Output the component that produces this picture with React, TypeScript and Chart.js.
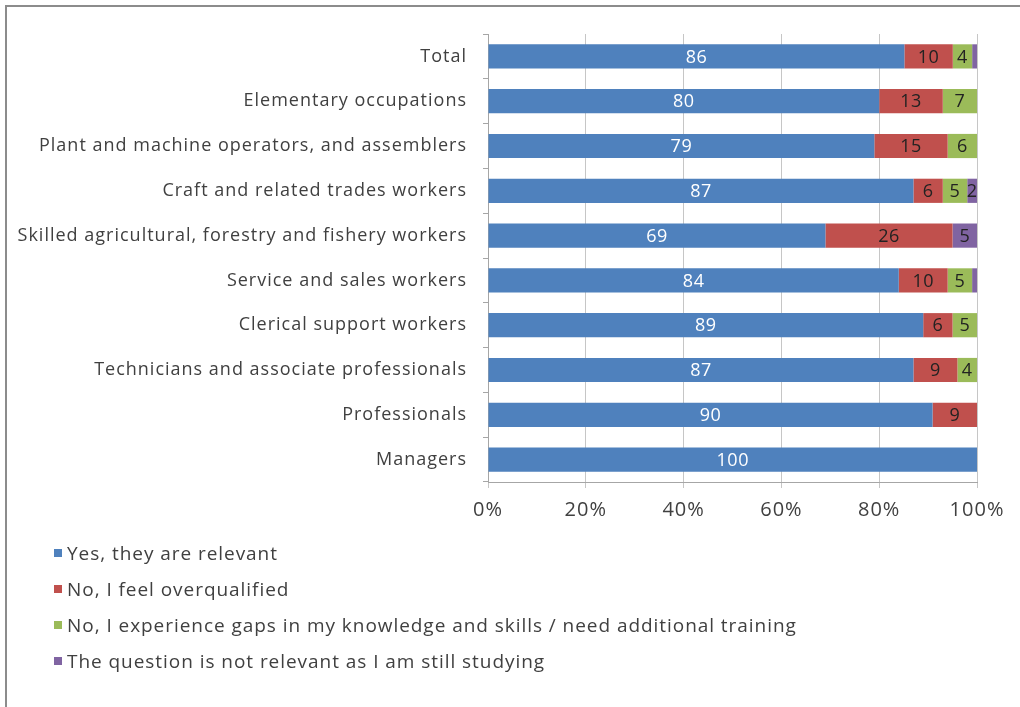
import React, { useEffect, useRef } from 'react';
import Chart from 'chart.js/auto';

const categories = [
  'Total',
  'Elementary occupations',
  'Plant and machine operators, and assemblers',
  'Craft and related trades workers',
  'Skilled agricultural, forestry and fishery workers',
  'Service and sales workers',
  'Clerical support workers',
  'Technicians and associate professionals',
  'Professionals',
  'Managers',
];
const yesRelevant = [86, 80, 79, 87, 69, 84, 89, 87, 90, 100];
const overqualified = [10, 13, 15, 6, 26, 10, 6, 9, 9, 0];
const skillGaps = [4, 7, 6, 5, 0, 5, 5, 4, 0, 0];
const stillStudying = [1, 0, 0, 2, 5, 1, 0, 0, 0, 0];
const seriesNames = [
  'Yes, they are relevant',
  'No, I feel overqualified',
  'No, I experience gaps in my knowledge and skills / need additional training',
  'The question is not relevant as I am still studying',
];
const seriesColors = ['#4F81BD', '#C0504D', '#9BBB59', '#8064A2'];
const xTicks = [0, 20, 40, 60, 80, 100];

const FONT = '"Open Sans"';
const TEXT = '#404040';

const series = [yesRelevant, overqualified, skillGaps, stillStudying];
const rowTotals = categories.map((_, i) => series.reduce((s, arr) => s + arr[i], 0));

const spacing = {
  id: 'spacing',
  beforeDraw(chart: any) {
    chart.ctx.letterSpacing = '1px';
  },
};

const barLabels = {
  id: 'barLabels',
  afterDatasetsDraw(chart: any) {
    const ctx = chart.ctx;
    ctx.save();
    ctx.letterSpacing = '0.5px';
    ctx.font = `18px ${FONT}`;
    ctx.textAlign = 'center';
    ctx.textBaseline = 'middle';
    chart.data.datasets.forEach((ds: any, di: number) => {
      const meta = chart.getDatasetMeta(di);
      meta.data.forEach((bar: any, i: number) => {
        const raw = ds.rawValues[i];
        if (raw < 2) return;
        const p = bar.getProps(['x', 'y', 'base'], true);
        ctx.fillStyle = di === 0 ? '#ffffff' : '#222222';
        ctx.fillText(String(raw), (p.x + p.base) / 2, p.y + 1);
      });
    });
    ctx.restore();
  },
};

export default function App() {
  const ref = useRef<HTMLCanvasElement>(null);
  useEffect(() => {
    if (!ref.current) return;
    const chart = new Chart(ref.current, {
      type: 'bar',
      data: {
        labels: categories,
        datasets: series.map((arr, si) => ({
          label: seriesNames[si],
          data: arr.map((v, i) => (v / rowTotals[i]) * 100),
          rawValues: arr,
          backgroundColor: seriesColors[si],
          borderWidth: 0,
          barPercentage: 0.54,
          categoryPercentage: 1,
        })) as any,
      },
      options: {
        indexAxis: 'y',
        responsive: false,
        animation: false,
        devicePixelRatio: 1,
        layout: { padding: { left: 0, right: 43, top: 34, bottom: 185 } },
        plugins: {
          legend: { display: false },
          tooltip: { enabled: false },
        },
        scales: {
          x: {
            stacked: true,
            min: 0,
            max: 100,
            afterBuildTicks: (s: any) => {
              s.ticks = xTicks.map((v) => ({ value: v }));
            },
            afterFit: (s: any) => {
              s.height = 40;
            },
            grid: { color: '#c6c6c6', tickLength: 6, lineWidth: 1 },
            border: { color: '#a6a6a6' },
            ticks: {
              padding: 10,
              color: TEXT,
              font: { family: FONT, size: 20 },
              callback: (v: any) => v + '%',
            },
          },
          y: {
            stacked: true,
            afterFit: (s: any) => {
              s.width = 488;
            },
            grid: { offset: true, drawOnChartArea: false, tickLength: 5, color: '#a6a6a6' },
            border: { color: '#a6a6a6' },
            ticks: {
              padding: 16,
              color: TEXT,
              font: { family: FONT, size: 18 },
            },
          },
        },
      },
      plugins: [spacing, barLabels],
    });
    return () => chart.destroy();
  }, []);

  const legendTops = [553, 589, 625, 661];
  return (
    <div style={{ position: 'absolute', left: 0, top: 0, width: 1020, height: 707, overflow: 'hidden', background: '#fff' }}>
      <div
        style={{
          position: 'absolute',
          left: 5,
          top: 5,
          width: 1015,
          height: 700,
          borderLeft: '2px solid #8c8c8c',
          borderTop: '2px solid #8c8c8c',
          borderBottom: '1px solid #e4e4e4',
        }}
      />
      <canvas ref={ref} width={1020} height={707} style={{ position: 'absolute', left: 0, top: 0 }} />
      {seriesNames.map((name, i) => (
        <div
          key={name}
          style={{
            position: 'absolute',
            left: 54,
            top: legendTops[i] - 12,
            height: 24,
            display: 'flex',
            alignItems: 'center',
            fontFamily: FONT,
            fontSize: 19,
            letterSpacing: '0.95px',
            color: TEXT,
            whiteSpace: 'nowrap',
          }}
        >
          <span style={{ display: 'inline-block', width: 8, height: 8, background: seriesColors[i], marginRight: 5 }} />
          {name}
        </div>
      ))}
    </div>
  );
}
